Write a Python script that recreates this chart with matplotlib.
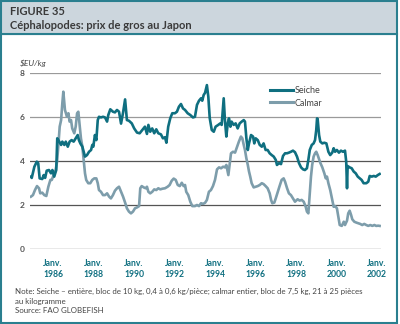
import matplotlib
matplotlib.use("Agg")
import matplotlib.pyplot as plt
from matplotlib.patches import Rectangle
from matplotlib.lines import Line2D

plt.rcParams['font.family'] = ['Lato', 'DejaVu Sans']

# Monthly-ish wholesale prices, decimal year -> $EU/kg
seiche_t = [1984.91, 1984.95, 1985.08, 1985.20, 1985.27, 1985.34, 1985.47, 1985.54, 1985.61, 1985.69,
            1985.80, 1985.90, 1985.97, 1986.06, 1986.16, 1986.21, 1986.31, 1986.40, 1986.46, 1986.56,
            1986.63, 1986.73, 1986.82, 1986.92, 1987.02, 1987.12, 1987.22, 1987.28, 1987.35, 1987.45,
            1987.58, 1987.68, 1987.78, 1987.88, 1987.94, 1987.99, 1988.07, 1988.14, 1988.21, 1988.27,
            1988.37, 1988.47, 1988.57, 1988.67, 1988.73, 1988.83, 1988.96, 1989.06, 1989.16, 1989.26,
            1989.36, 1989.46, 1989.56, 1989.65, 1989.75, 1989.89, 1990.01, 1990.15, 1990.28, 1990.41,
            1990.54, 1990.64, 1990.71, 1990.80, 1990.90, 1991.00, 1991.10, 1991.20, 1991.33, 1991.43,
            1991.53, 1991.60, 1991.69, 1991.79, 1991.89, 1992.02, 1992.12, 1992.22, 1992.32, 1992.42,
            1992.52, 1992.65, 1992.78, 1992.91, 1993.01, 1993.11, 1993.21, 1993.31, 1993.37, 1993.44,
            1993.51, 1993.60, 1993.67, 1993.74, 1993.84, 1993.94, 1994.03, 1994.16, 1994.26, 1994.33,
            1994.43, 1994.49, 1994.56, 1994.63, 1994.69, 1994.76, 1994.82, 1994.92, 1995.02, 1995.12,
            1995.22, 1995.32, 1995.42, 1995.48, 1995.55, 1995.62, 1995.68, 1995.78, 1995.88, 1995.94,
            1996.01, 1996.11, 1996.21, 1996.31, 1996.40, 1996.50, 1996.60, 1996.70, 1996.80, 1996.90,
            1997.00, 1997.06, 1997.16, 1997.26, 1997.36, 1997.46, 1997.56, 1997.65, 1997.75, 1997.85,
            1997.95, 1998.05, 1998.15, 1998.25, 1998.35, 1998.44, 1998.54, 1998.61, 1998.68, 1998.78,
            1998.87, 1998.94, 1999.00, 1999.04, 1999.07, 1999.14, 1999.20, 1999.30, 1999.40, 1999.50,
            1999.60, 1999.69, 1999.79, 1999.86, 1999.93, 2000.02, 2000.12, 2000.22, 2000.32, 2000.42,
            2000.48, 2000.52, 2000.55, 2000.65, 2000.75, 2000.85, 2000.95, 2001.05, 2001.15, 2001.24,
            2001.34, 2001.47, 2001.57, 2001.64, 2001.74, 2001.84, 2001.94, 2002.04, 2002.13]
seiche_v = [3.29, 3.23, 3.74, 3.97, 3.90, 3.21, 3.18, 3.36, 3.23, 3.56,
            3.59, 3.44, 3.59, 3.29, 3.59, 5.03, 4.88, 4.73, 4.88, 4.73,
            4.88, 4.65, 4.88, 4.95, 4.88, 5.03, 5.18, 4.95, 4.80, 4.65,
            4.20, 4.27, 4.42, 4.50, 4.73, 4.65, 5.18, 4.95, 5.86, 6.01,
            5.98, 6.01, 5.98, 5.79, 6.09, 6.35, 6.24, 6.21, 6.32, 6.24,
            5.70, 6.20, 6.80, 5.86, 5.83, 5.71, 5.48, 5.29, 5.26, 5.41,
            5.56, 5.23, 5.64, 5.33, 5.48, 5.26, 5.44, 5.26, 5.21, 5.03,
            5.08, 4.83, 5.56, 5.94, 6.17, 6.17, 6.24, 6.47, 6.59, 6.39,
            6.32, 6.17, 6.09, 5.98, 6.01, 6.55, 6.74, 6.85, 6.74, 7.00,
            7.10, 7.45, 6.92, 5.95, 5.41, 5.33, 5.56, 5.64, 5.71, 5.64,
            6.85, 5.86, 5.11, 5.71, 5.94, 5.56, 5.79, 5.64, 5.71, 5.48,
            5.71, 5.79, 5.86, 5.79, 5.03, 4.50, 4.80, 5.18, 5.11, 4.80,
            5.03, 4.95, 4.73, 4.65, 4.80, 4.50, 4.50, 4.35, 4.27, 4.20,
            4.05, 3.82, 3.90, 3.86, 4.23, 4.35, 4.35, 4.38, 4.42, 4.47,
            4.40, 4.20, 3.90, 3.71, 3.62, 3.59, 3.67, 4.05, 4.50, 4.73,
            4.80, 4.95, 5.41, 5.94, 5.90, 5.18, 4.88, 4.80, 4.83, 4.80,
            4.42, 4.27, 4.38, 4.58, 4.42, 4.50, 4.38, 4.47, 4.42, 4.47,
            3.97, 2.76, 3.77, 3.71, 3.67, 3.52, 3.44, 3.29, 3.21, 3.14,
            2.99, 2.99, 3.06, 3.32, 3.29, 3.32, 3.29, 3.36, 3.41]

calmar_t = [1984.91, 1985.01, 1985.11, 1985.21, 1985.31, 1985.37, 1985.47, 1985.57, 1985.67, 1985.77,
            1985.87, 1985.94, 1986.03, 1986.13, 1986.20, 1986.26, 1986.33, 1986.40, 1986.46, 1986.51,
            1986.59, 1986.69, 1986.76, 1986.82, 1986.89, 1986.95, 1987.05, 1987.12, 1987.19, 1987.25,
            1987.32, 1987.38, 1987.45, 1987.52, 1987.58, 1987.64, 1987.74, 1987.84, 1987.94, 1988.04,
            1988.14, 1988.21, 1988.27, 1988.37, 1988.47, 1988.57, 1988.67, 1988.77, 1988.86, 1988.96,
            1989.06, 1989.16, 1989.26, 1989.36, 1989.46, 1989.56, 1989.65, 1989.75, 1989.85, 1989.95,
            1990.05, 1990.15, 1990.25, 1990.31, 1990.38, 1990.48, 1990.58, 1990.64, 1990.71, 1990.80,
            1990.90, 1991.00, 1991.10, 1991.20, 1991.30, 1991.40, 1991.53, 1991.66, 1991.76, 1991.86,
            1991.96, 1992.06, 1992.16, 1992.26, 1992.36, 1992.45, 1992.52, 1992.58, 1992.68, 1992.78,
            1992.88, 1993.01, 1993.11, 1993.21, 1993.31, 1993.41, 1993.51, 1993.60, 1993.70, 1993.80,
            1993.90, 1994.00, 1994.10, 1994.20, 1994.30, 1994.40, 1994.49, 1994.56, 1994.66, 1994.73,
            1994.79, 1994.89, 1994.99, 1995.09, 1995.18, 1995.28, 1995.35, 1995.42, 1995.48, 1995.55,
            1995.62, 1995.68, 1995.74, 1995.81, 1995.91, 1996.01, 1996.11, 1996.21, 1996.31, 1996.40,
            1996.50, 1996.60, 1996.70, 1996.77, 1996.83, 1996.93, 1997.00, 1997.10, 1997.19, 1997.29,
            1997.39, 1997.46, 1997.56, 1997.65, 1997.75, 1997.85, 1997.95, 1998.08, 1998.18, 1998.28,
            1998.38, 1998.48, 1998.54, 1998.61, 1998.68, 1998.74, 1998.80, 1998.87, 1998.94, 1999.00,
            1999.07, 1999.14, 1999.20, 1999.30, 1999.40, 1999.47, 1999.53, 1999.60, 1999.69, 1999.79,
            1999.86, 1999.93, 2000.02, 2000.09, 2000.16, 2000.26, 2000.36, 2000.42, 2000.52, 2000.58,
            2000.65, 2000.72, 2000.78, 2000.88, 2000.98, 2001.08, 2001.17, 2001.27, 2001.37, 2001.47,
            2001.57, 2001.67, 2001.77, 2001.87, 2001.96, 2002.06, 2002.13]
calmar_v = [2.38, 2.45, 2.68, 2.86, 2.76, 2.53, 2.56, 2.45, 2.41, 2.83,
            3.14, 3.14, 3.36, 3.59, 3.97, 4.65, 5.56, 5.86, 6.62, 7.15,
            6.32, 6.01, 6.17, 5.79, 5.86, 5.48, 5.26, 5.56, 6.17, 6.24,
            5.56, 5.03, 4.65, 3.97, 3.44, 3.14, 2.99, 2.99, 3.14, 3.21,
            3.21, 2.99, 2.68, 2.60, 2.45, 2.45, 2.53, 2.38, 2.30, 2.45,
            2.65, 2.76, 2.83, 2.60, 2.38, 2.11, 1.85, 1.70, 1.62, 1.70,
            1.85, 1.89, 1.95, 2.76, 2.86, 2.80, 2.76, 2.83, 2.60, 2.53,
            2.60, 2.71, 2.68, 2.76, 2.71, 2.74, 2.76, 2.83, 2.91, 3.10,
            3.20, 3.14, 2.91, 2.86, 3.01, 2.86, 2.91, 2.60, 2.45, 2.15,
            1.95, 1.95, 2.00, 1.95, 2.08, 2.05, 2.10, 2.23, 2.60, 2.68,
            2.86, 3.14, 3.62, 3.71, 3.67, 3.74, 3.71, 3.82, 3.36, 3.90,
            4.35, 4.42, 4.38, 4.65, 4.88, 5.11, 5.03, 4.73, 4.50, 4.12,
            3.82, 3.52, 3.29, 2.99, 2.80, 2.83, 2.86, 2.91, 2.99, 2.95,
            2.86, 2.76, 2.53, 2.23, 2.08, 2.11, 2.30, 2.60, 2.86, 3.14,
            3.21, 3.06, 2.76, 2.53, 2.45, 2.30, 2.15, 2.26, 2.20, 2.23,
            2.15, 1.92, 1.70, 1.62, 2.53, 3.29, 3.82, 4.20, 4.35, 4.42,
            4.27, 4.08, 3.92, 3.71, 3.44, 3.21, 3.29, 2.99, 2.68, 2.23,
            1.92, 1.95, 1.85, 1.47, 1.09, 1.05, 1.24, 1.09, 1.29, 1.62,
            1.74, 1.55, 1.35, 1.24, 1.20, 1.17, 1.14, 1.09, 1.14, 1.09,
            1.05, 1.09, 1.05, 1.09, 1.05, 1.06, 1.05]

year_ticks = [1986, 1988, 1990, 1992, 1994, 1996, 1998, 2000, 2002]
y_ticks = [0, 2, 4, 6, 8]

teal = "#0f6f80"
grey_blue = "#7d9dab"
frame = "#2a7f8f"

fig = plt.figure(figsize=(4.0, 3.24), dpi=100)

# Frame and header band, kept behind the axes
fig.patches.append(Rectangle((0.003, 0.003), 0.99, 0.892, transform=fig.transFigure,
                             facecolor="white", edgecolor=frame, linewidth=1.5, zorder=-2))
fig.patches.append(Rectangle((0.003, 0.895), 0.99, 0.103, transform=fig.transFigure,
                             facecolor="#ccd6dd", edgecolor=frame, linewidth=1.5, zorder=-2))
fig.text(0.025, 0.965, "FIGURE 35", fontsize=8, fontweight="bold", color="#3a3a3a", va="center")
fig.text(0.025, 0.922, "Céphalopodes: prix de gros au Japon", fontsize=8, fontweight="bold",
         color="#3a3a3a", va="center")

ax = fig.add_axes([0.075, 0.2315, 0.8775, 0.5432])
for v in y_ticks:
    ax.axhline(v, color="#9a9a9a" if v >= 6 else "#555555", linewidth=0.9, zorder=1)

ax.plot(calmar_t, calmar_v, color=grey_blue, linewidth=1.9, zorder=2, solid_joinstyle="round")
ax.plot(seiche_t, seiche_v, color=teal, linewidth=1.9, zorder=3, solid_joinstyle="round")

ax.set_xlim(1984.864, 2002.198)
ax.set_ylim(0, 8)
for s in ax.spines.values():
    s.set_visible(False)
ax.set_yticks(y_ticks)
ax.set_yticklabels([str(v) for v in y_ticks], fontsize=6, fontweight="bold", color="#555555")
ax.set_xticks(year_ticks)
ax.set_xticklabels(["Janv.\n%d" % y for y in year_ticks], fontsize=6.2, fontweight="bold",
                   color=teal, linespacing=1.25)
ax.tick_params(axis="y", length=0, pad=4)
ax.tick_params(axis="x", length=0, pad=7.5)
ax.patch.set_alpha(0)

fig.text(0.05, 0.805, "$EU/kg", fontsize=6, style="italic", color="#444444", va="center")

# Legend
handles = [Line2D([], [], color=teal, linewidth=2.2), Line2D([], [], color=grey_blue, linewidth=2.2)]
ax.legend(handles, ["Seiche", "Calmar"], loc="upper left", bbox_to_anchor=(0.66, 0.97),
          frameon=False, fontsize=6.5, handlelength=2.6, handletextpad=0.2, labelspacing=0.35,
          labelcolor="#444444")

# Notes
fig.text(0.037, 0.071, "Note: Seiche – entière, bloc de 10 kg, 0,4 à 0,6 kg/pièce; calmar entier, "
         "bloc de 7,5 kg, 21 à 25 pièces\nau kilogramme\nSource: FAO GLOBEFISH",
         fontsize=5.7, color="#444444", va="center", linespacing=1.4)

fig.savefig("out.png", dpi=100)
